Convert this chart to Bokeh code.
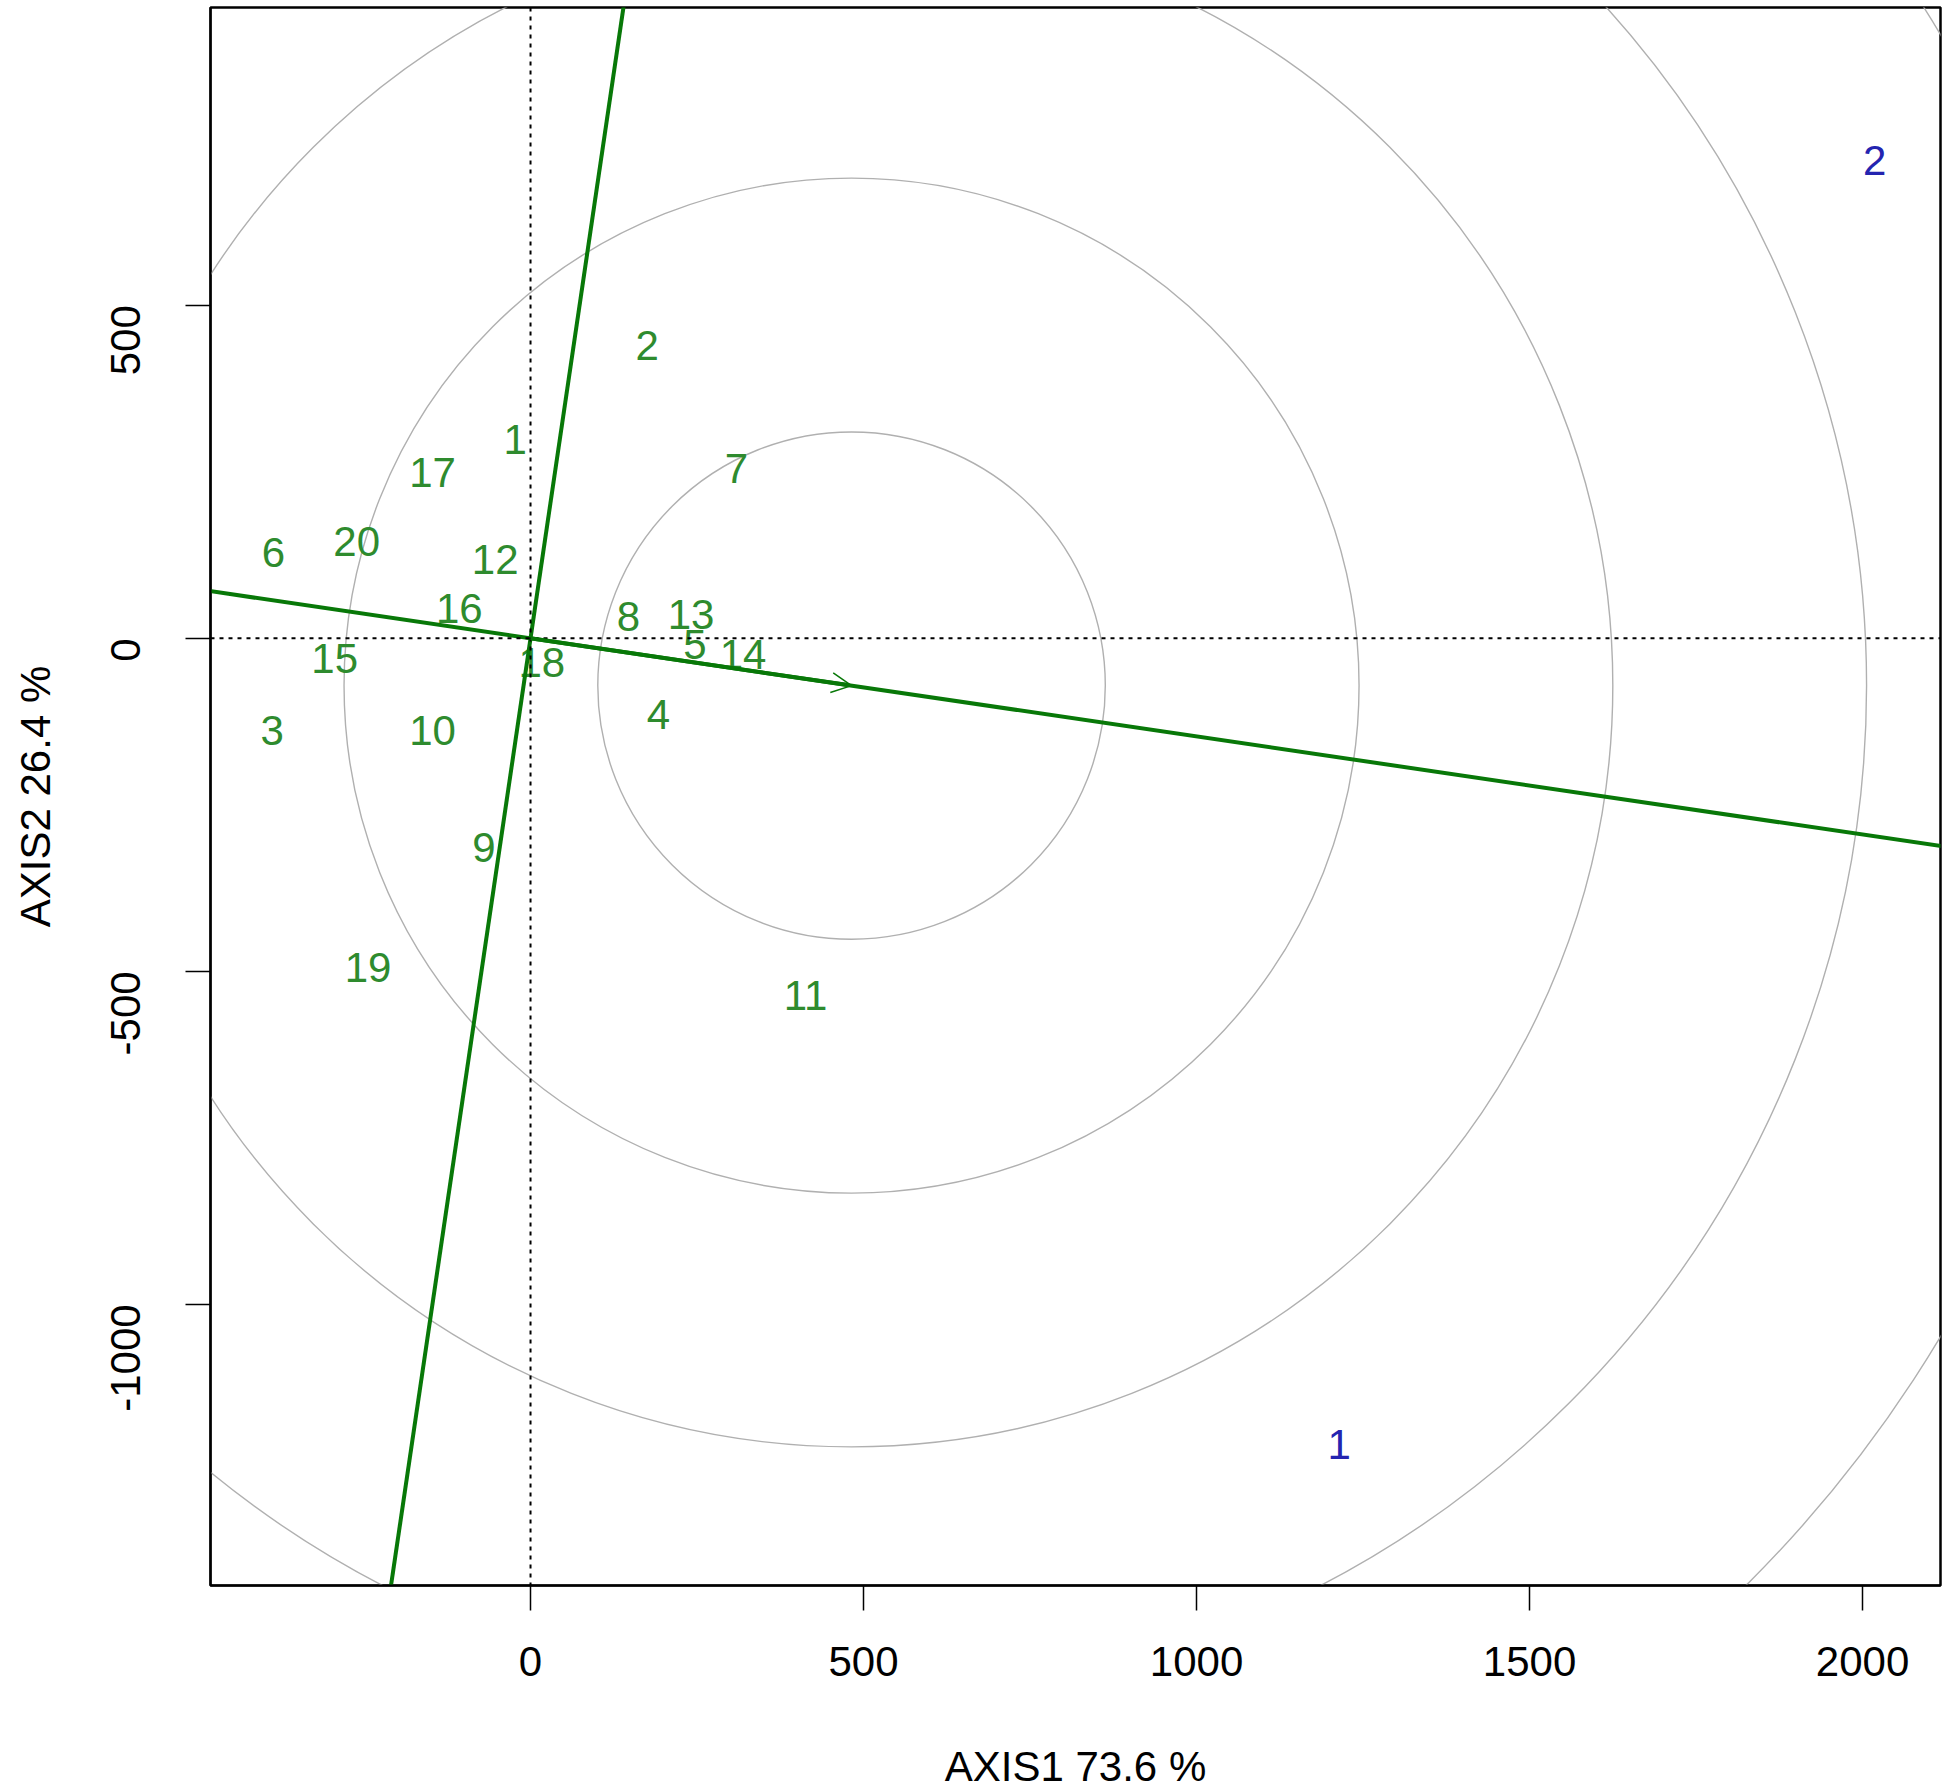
import math
import numpy as np
from bokeh.plotting import figure
from bokeh.models import Range1d, FixedTicker, Span, Arrow, OpenHead, ColumnDataSource
from bokeh.core.properties import value
from bokeh.embed import file_html
from bokeh.resources import INLINE

# Genotype scores (green labels)
gen_labels = [str(i) for i in range(1, 21)]
gen_x = [-23, 175, -388, 192, 247, -386, 309, 147, -70, -147,
         413, -53, 241, 319, -294, -107, -147, 17, -244, -261]
gen_y = [299, 439, -139, -114, -10, 129, 255, 32, -314, -139,
         -536, 118, 35, -24, -31, 45, 249, -36, -494, 145]

# Environment scores (blue labels)
env_labels = ["1", "2"]
env_x = [1214, 2018]
env_y = [-1211, 718]

# Average-environment / ideal point (arrow tip, centre of rings)
ideal_x = 482
ideal_y = -71
ring_step = 381

x_ticks = [0, 500, 1000, 1500, 2000]
y_ticks = [-1000, -500, 0, 500]
x_title = "AXIS1 73.6 %"
y_title = "AXIS2 26.4 %"

FONT = "Liberation Sans"
FS = "42px"
GREEN_TXT = "#2e8b2e"
GREEN_LN = "#087808"
BLUE = "#2424b0"

W, H = 1950, 1792
FRAME_W, FRAME_H = 1730, 1580
p = figure(width=W, height=H, output_backend="svg", toolbar_location=None,
           x_range=Range1d(-480.5, 2117), y_range=Range1d(-1422, 947),
           min_border_left=210, min_border_right=W - 210 - FRAME_W, min_border_top=7,
           min_border_bottom=H - 7 - FRAME_H)
p.grid.visible = False
p.outline_line_color = "black"
p.outline_line_width = 2.5
p.background_fill_color = "white"
p.border_fill_color = "white"

for ax, ticks in ((p.xaxis[0], x_ticks), (p.yaxis[0], y_ticks)):
    ax.ticker = FixedTicker(ticks=ticks)
    ax.major_label_overrides = {t: str(t) for t in ticks}
    ax.major_tick_in = 0
    ax.major_tick_out = 25
    ax.minor_tick_line_color = None
    ax.major_tick_line_width = 1.5
    ax.axis_line_width = 2
    ax.major_label_text_font = FONT
    ax.major_label_text_font_size = FS
    ax.major_label_text_color = "black"
    ax.major_label_text_line_height = 1.0
    ax.axis_label_text_font = FONT
    ax.axis_label_text_font_size = FS
    ax.axis_label_text_font_style = "normal"
    ax.axis_label_text_color = "black"
    ax.axis_label_text_line_height = 0.9

p.xaxis.axis_label = x_title
p.yaxis.axis_label = y_title
p.xaxis.major_label_standoff = 36
p.xaxis.axis_label_standoff = 64
p.yaxis.major_label_orientation = math.pi / 2
p.yaxis.major_label_standoff = 60
p.yaxis.axis_label_standoff = 35

# Concentric rings around the ideal point
radii = [ring_step * k for k in range(1, 7)]
p.circle(x=[ideal_x] * len(radii), y=[ideal_y] * len(radii), radius=radii,
         fill_color=None, line_color="#b0b0b0", line_width=1.4)

# Genotype labels
src_g = ColumnDataSource(dict(x=gen_x, y=gen_y, t=gen_labels))
p.text(x="x", y="y", text="t", source=src_g, text_font=value(FONT),
       text_font_size=FS, text_color=GREEN_TXT, text_align="center",
       text_baseline="middle")

# Environment labels
src_e = ColumnDataSource(dict(x=env_x, y=env_y, t=env_labels))
p.text(x="x", y="y", text="t", source=src_e, text_font=value(FONT),
       text_font_size=FS, text_color=BLUE, text_align="center",
       text_baseline="middle")

# Dotted reference lines at origin
p.add_layout(Span(location=0, dimension="height", line_color="black",
                  line_dash="4 5", line_width=2))
p.add_layout(Span(location=0, dimension="width", line_color="black",
                  line_dash="4 5", line_width=2))

# Average environment axis and its perpendicular through origin
t = np.array([-20.0, 20.0])
p.line(x=t * ideal_x, y=t * ideal_y, line_color=GREEN_LN, line_width=4)
p.line(x=-t * ideal_y, y=t * ideal_x, line_color=GREEN_LN, line_width=4)

p.add_layout(Arrow(end=OpenHead(size=20, line_color=GREEN_LN, line_width=1.5),
                   x_start=0, y_start=0, x_end=ideal_x, y_end=ideal_y,
                   line_color=GREEN_LN, line_width=4))

open("out.html", "w").write(file_html(p, INLINE))
